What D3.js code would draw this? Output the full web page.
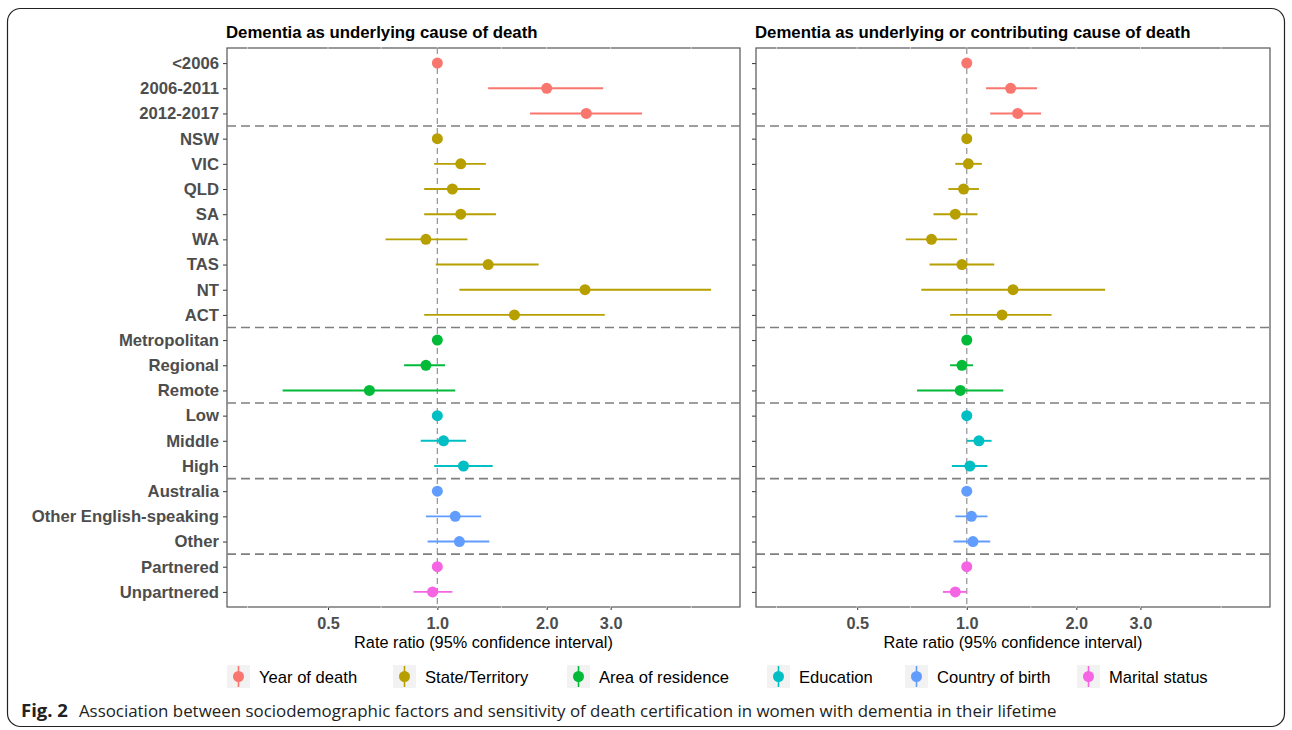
<!DOCTYPE html>
<html>
<head>
<meta charset="utf-8">
<script src="https://cdn.jsdelivr.net/npm/d3@7"></script>
<style>
  body { margin: 0; background: #fff; }
  svg { display: block; }
</style>
</head>
<body>
<script>
"use strict";

// categories, top to bottom, with the group each belongs to
const rowLabels = ["<2006", "2006-2011", "2012-2017",
    "NSW", "VIC", "QLD", "SA", "WA", "TAS", "NT", "ACT",
    "Metropolitan", "Regional", "Remote",
    "Low", "Middle", "High",
    "Australia", "Other English-speaking", "Other",
    "Partnered", "Unpartnered"];
const rowGroup = [0, 0, 0, 1, 1, 1, 1, 1, 1, 1, 1, 2, 2, 2, 3, 3, 3, 4, 4, 4, 5, 5];
const groupNames = ["Year of death", "State/Territory", "Area of residence", "Education", "Country of birth", "Marital status"];
const groupColors = ["#F8766D", "#B79F00", "#00BA38", "#00BFC4", "#619CFF", "#F564E3"];

// dementia as underlying cause of death (rate ratio, 95% CI); reference rows have no CI
const undEst = [1, 2.00, 2.57, 1, 1.16, 1.10, 1.16, 0.93, 1.38, 2.55, 1.63, 1, 0.93, 0.65, 1, 1.04, 1.18, 1, 1.12, 1.15, 1, 0.97];
const undLo  = [null, 1.38, 1.80, null, 0.98, 0.92, 0.92, 0.72, 0.99, 1.15, 0.92, null, 0.81, 0.375, null, 0.90, 0.98, null, 0.93, 0.94, null, 0.86];
const undHi  = [null, 2.86, 3.66, null, 1.36, 1.31, 1.45, 1.21, 1.90, 5.67, 2.89, null, 1.05, 1.12, null, 1.20, 1.42, null, 1.32, 1.39, null, 1.10];

// dementia as underlying or contributing cause of death
const anyEst = [1, 1.32, 1.38, 1, 1.01, 0.98, 0.93, 0.80, 0.97, 1.34, 1.25, 1, 0.97, 0.96, 1, 1.08, 1.02, 1, 1.03, 1.04, 1, 0.93];
const anyLo  = [null, 1.13, 1.16, null, 0.93, 0.89, 0.81, 0.68, 0.79, 0.75, 0.90, null, 0.90, 0.73, null, 1.00, 0.91, null, 0.93, 0.92, null, 0.86];
const anyHi  = [null, 1.56, 1.60, null, 1.10, 1.08, 1.07, 0.94, 1.19, 2.40, 1.71, null, 1.04, 1.26, null, 1.17, 1.14, null, 1.14, 1.16, null, 1.00];

const panelTitles = ["Dementia as underlying cause of death", "Dementia as underlying or contributing cause of death"];
const xTicks = [0.5, 1, 2, 3];
const xTickLabels = ["0.5", "1.0", "2.0", "3.0"];
const xDomain = [0.2636, 6.81];

const W = 1292, H = 730;
const svg = d3.select("body").append("svg").attr("width", W).attr("height", H);

const font = "'Liberation Sans', Arial, sans-serif";

// outer frame of the figure
svg.append("rect")
    .attr("x", 7.5).attr("y", 8.5).attr("width", 1277).attr("height", 718)
    .attr("rx", 13).attr("fill", "none").attr("stroke", "#222").attr("stroke-width", 1.2);

const panelTop = 48, panelBottom = 607;
const y = d3.scalePoint().domain(rowLabels).range([panelTop, panelBottom]).padding(0.6);

// boundaries between groups
const seps = [];
for (let i = 1; i < rowLabels.length; i++) {
    if (rowGroup[i] !== rowGroup[i - 1]) seps.push((y(rowLabels[i - 1]) + y(rowLabels[i])) / 2);
}

const panels = [
    { x0: 227, x1: 740, est: undEst, lo: undLo, hi: undHi, labels: true },
    { x0: 756, x1: 1270, est: anyEst, lo: anyLo, hi: anyHi, labels: false }
];

panels.forEach(function (p, pi) {
    const x = d3.scaleLog().domain(xDomain).range([p.x0, p.x1]);
    const g = svg.append("g");

    g.append("text")
        .attr("x", p.x0 - 1).attr("y", 38)
        .style("font", "bold 16.8px " + font).attr("fill", "#000")
        .text(panelTitles[pi]);

    // y axis
    const yAxis = g.append("g")
        .attr("transform", "translate(" + p.x0 + ",0)")
        .call(d3.axisLeft(y).tickSize(4).tickPadding(4).tickFormat(p.labels ? null : ""));
    yAxis.select(".domain").remove();
    yAxis.selectAll("line").attr("stroke", "#333");
    yAxis.selectAll("text")
        .style("font", "bold 16.7px " + font).attr("fill", "#4d4d4d");

    // x axis
    const xAxis = g.append("g")
        .attr("transform", "translate(0," + panelBottom + ")")
        .call(d3.axisBottom(x).tickValues(xTicks).tickSize(3).tickPadding(7)
            .tickFormat(function (d, i) { return xTickLabels[i]; }));
    xAxis.select(".domain").remove();
    xAxis.selectAll("line").attr("stroke", "#333");
    xAxis.selectAll("text")
        .style("font", "bold 16.3px " + font).attr("fill", "#4d4d4d");

    g.append("text")
        .attr("x", (p.x0 + p.x1) / 2).attr("y", 648)
        .attr("text-anchor", "middle")
        .style("font", "16.3px " + font).attr("fill", "#000")
        .text("Rate ratio (95% confidence interval)");

    // panel border
    g.append("rect")
        .attr("x", p.x0).attr("y", panelTop)
        .attr("width", p.x1 - p.x0).attr("height", panelBottom - panelTop)
        .attr("fill", "none").attr("stroke", "#555").attr("stroke-width", 1.2);

    // grid in white, visible only where it cuts the border
    const gridVals = [0.3, 0.5, 0.7, 1, 1.5, 2, 3, 5];
    g.append("g").selectAll("line").data(gridVals).enter().append("line")
        .attr("x1", function (d) { return x(d); }).attr("x2", function (d) { return x(d); })
        .attr("y1", panelTop - 1).attr("y2", panelBottom + 1)
        .attr("stroke", "#fff").attr("stroke-width", 0.6);

    // reference line at 1
    g.append("line")
        .attr("x1", x(1)).attr("x2", x(1)).attr("y1", panelTop).attr("y2", panelBottom)
        .attr("stroke", "#9a9a9a").attr("stroke-width", 1.3).attr("stroke-dasharray", "6,4");

    // separators between groups
    g.selectAll(".sep").data(seps).enter().append("line")
        .attr("class", "sep")
        .attr("x1", p.x0).attr("x2", p.x1)
        .attr("y1", function (d) { return d; }).attr("y2", function (d) { return d; })
        .attr("stroke", "#7f7f7f").attr("stroke-width", 1.6).attr("stroke-dasharray", "9,5");

    const idx = d3.range(rowLabels.length);

    g.selectAll(".ci").data(idx.filter(function (i) { return p.lo[i] !== null; })).enter()
        .append("line").attr("class", "ci")
        .attr("x1", function (i) { return x(p.lo[i]); })
        .attr("x2", function (i) { return x(p.hi[i]); })
        .attr("y1", function (i) { return y(rowLabels[i]); })
        .attr("y2", function (i) { return y(rowLabels[i]); })
        .attr("stroke", function (i) { return groupColors[rowGroup[i]]; })
        .attr("stroke-width", 1.9);

    g.selectAll(".pt").data(idx).enter()
        .append("circle").attr("class", "pt")
        .attr("cx", function (i) { return x(p.est[i]); })
        .attr("cy", function (i) { return y(rowLabels[i]); })
        .attr("r", 5.5)
        .attr("fill", function (i) { return groupColors[rowGroup[i]]; });
});

// legend
const legendX = [227, 393, 567, 767, 905, 1077];
const legend = svg.append("g");
groupNames.forEach(function (name, i) {
    const lg = legend.append("g").attr("transform", "translate(" + legendX[i] + ",665)");
    lg.append("rect").attr("width", 23).attr("height", 23).attr("fill", "#f2f2f2");
    lg.append("line").attr("x1", 11.5).attr("x2", 11.5).attr("y1", 1).attr("y2", 22)
        .attr("stroke", groupColors[i]).attr("stroke-width", 1.6);
    lg.append("circle").attr("cx", 11.5).attr("cy", 11.5).attr("r", 5.5).attr("fill", groupColors[i]);
    lg.append("text").attr("x", 32).attr("y", 17.5)
        .style("font", "16.6px " + font).attr("fill", "#000").text(name);
});

// caption
const cap = svg.append("text").attr("x", 21).attr("y", 717)
    .style("font", "16.9px 'Open Sans', sans-serif").attr("fill", "#222");
cap.append("tspan").style("font-weight", "bold").style("font-size", "18.5px").text("Fig. 2");
cap.append("tspan").attr("dx", 11)
    .text("Association between sociodemographic factors and sensitivity of death certification in women with dementia in their lifetime");
</script>
</body>
</html>
